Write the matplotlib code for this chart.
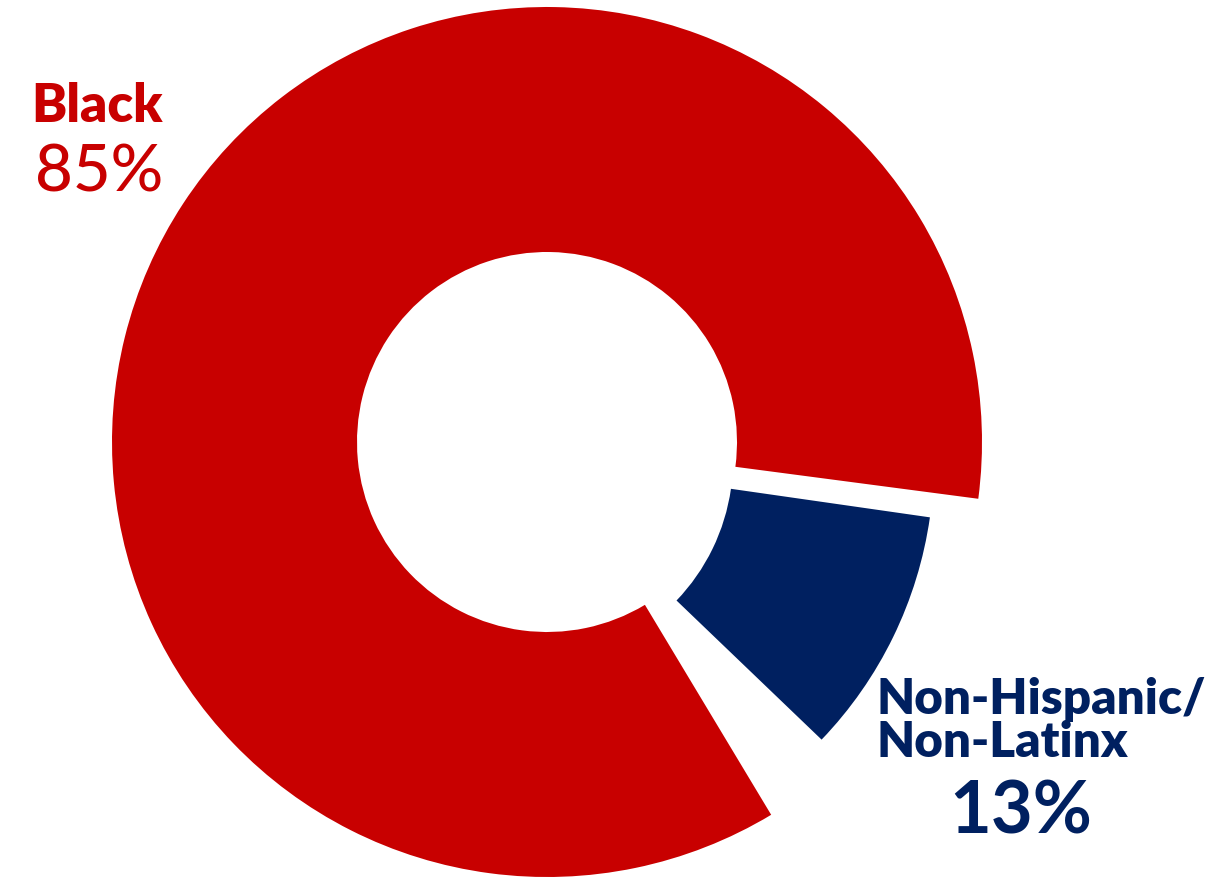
import matplotlib.pyplot as plt

# slice shares as drawn in the picture (percent of the full circle)
groups = ['Black', 'Non-Hispanic/', 'Non-Latinx']
drawn_share = [85.7, 9.9]
label_pct = ['85%', '13%']
colors = ['#C80000', '#002060']

fig = plt.figure(figsize=(12.19, 8.77), dpi=100)
ax = fig.add_axes([0, 0, 1, 1])

# big red ring
ax.pie([drawn_share[0], 100 - drawn_share[0]], colors=[colors[0], 'none'],
       startangle=-7.5, counterclock=True, radius=435, center=(547, 435),
       wedgeprops=dict(width=245, linewidth=0))

# navy piece, pulled out and a bit thinner
ax.pie([drawn_share[1], 100 - drawn_share[1]], colors=[colors[1], 'none'],
       startangle=-43.8, counterclock=True, radius=404, center=(530, 417),
       wedgeprops=dict(width=201, linewidth=0))

ax.set_xlim(0, 1219)
ax.set_ylim(0, 877)
ax.set_aspect('equal')
ax.axis('off')

ax.text(163, 755, groups[0], ha='right', va='baseline', color=colors[0],
        fontsize=38, fontweight='heavy', family='Lato')
ax.text(163, 685, label_pct[0], ha='right', va='baseline', color=colors[0],
        fontsize=47, fontweight='medium', family='Lato')

ax.text(876, 163, groups[1], ha='left', va='baseline', color=colors[1],
        fontsize=35.5, fontweight='heavy', family='Lato')
ax.text(876, 120, groups[2], ha='left', va='baseline', color=colors[1],
        fontsize=35.5, fontweight='heavy', family='Lato')
ax.text(1021, 43, label_pct[1], ha='center', va='baseline', color=colors[1],
        fontsize=52, fontweight='bold', family='Lato')

fig.savefig('out.png', dpi=100)
